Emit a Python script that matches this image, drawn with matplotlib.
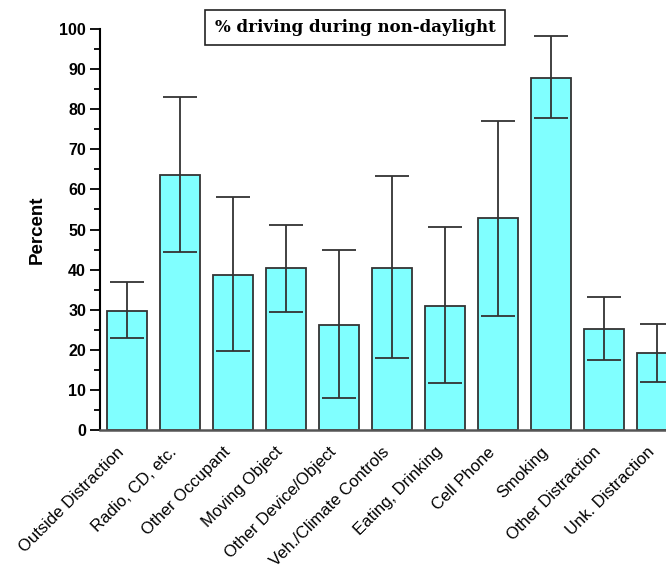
import numpy as np
import matplotlib.pyplot as plt

# categories and values
categories = ['Outside Distraction', 'Radio, CD, etc.', 'Other Occupant', 'Moving Object',
              'Other Device/Object', 'Veh./Climate Controls', 'Eating, Drinking', 'Cell Phone',
              'Smoking', 'Other Distraction', 'Unk. Distraction']
percent = [29.7, 63.5, 38.7, 40.3, 26.2, 40.3, 31.0, 52.8, 87.8, 25.2, 19.1]
upper = [36.8, 83.0, 58.0, 51.2, 44.9, 63.4, 50.6, 77.2, 98.3, 33.2, 26.4]
lower = [23.0, 44.5, 19.7, 29.4, 8.0, 17.9, 11.8, 28.4, 77.8, 17.5, 12.0]

pct = np.array(percent)
yerr = [pct - np.array(lower), np.array(upper) - pct]
x = np.arange(len(categories))

fig = plt.figure(figsize=(6.66, 5.71), dpi=100)
ax = fig.add_axes([0.150, 0.247, 0.850, 0.702])

ax.bar(x, pct, width=0.77, color='#80ffff', edgecolor='#333333', linewidth=1.3, zorder=2)
ax.errorbar(x, pct, yerr=yerr, fmt='none', ecolor='#333333', elinewidth=1.3,
            capsize=12, capthick=1.3, zorder=3)

ax.set_xlim(-0.51, 10.17)
ax.set_ylim(0, 100)
ax.set_yticks(np.arange(0, 101, 10))
ax.set_yticks(np.arange(5, 100, 10), minor=True)
ax.tick_params(axis='y', which='major', length=7, width=1.3, direction='out', pad=3)
ax.tick_params(axis='y', which='minor', length=4, width=1.3, direction='out')
ax.tick_params(axis='x', length=0, pad=18)
for lab in ax.get_yticklabels():
    lab.set_fontfamily('Liberation Sans')
    lab.set_fontweight('bold')
    lab.set_fontsize(11.5)

ax.set_xticks(x)
ax.set_xticklabels(categories, rotation=45, ha='right', va='bottom', rotation_mode='anchor',
                   fontsize=12, family='Liberation Sans')

for s in ['top', 'right']:
    ax.spines[s].set_visible(False)
ax.spines['left'].set_linewidth(1.5)
ax.spines['bottom'].set_linewidth(1.8)
ax.spines['bottom'].set_color('#555555')

ax.set_ylabel('Percent', fontsize=13.5, fontweight='bold', family='Liberation Sans', labelpad=10)

fig.text(0.533, 0.952, '% driving during non-daylight', ha='center', va='center',
         fontsize=12, fontweight='bold', family='DejaVu Serif',
         bbox=dict(boxstyle='square,pad=0.55', facecolor='white', edgecolor='#222222', linewidth=1.2))

fig.savefig('out.png', dpi=100)
